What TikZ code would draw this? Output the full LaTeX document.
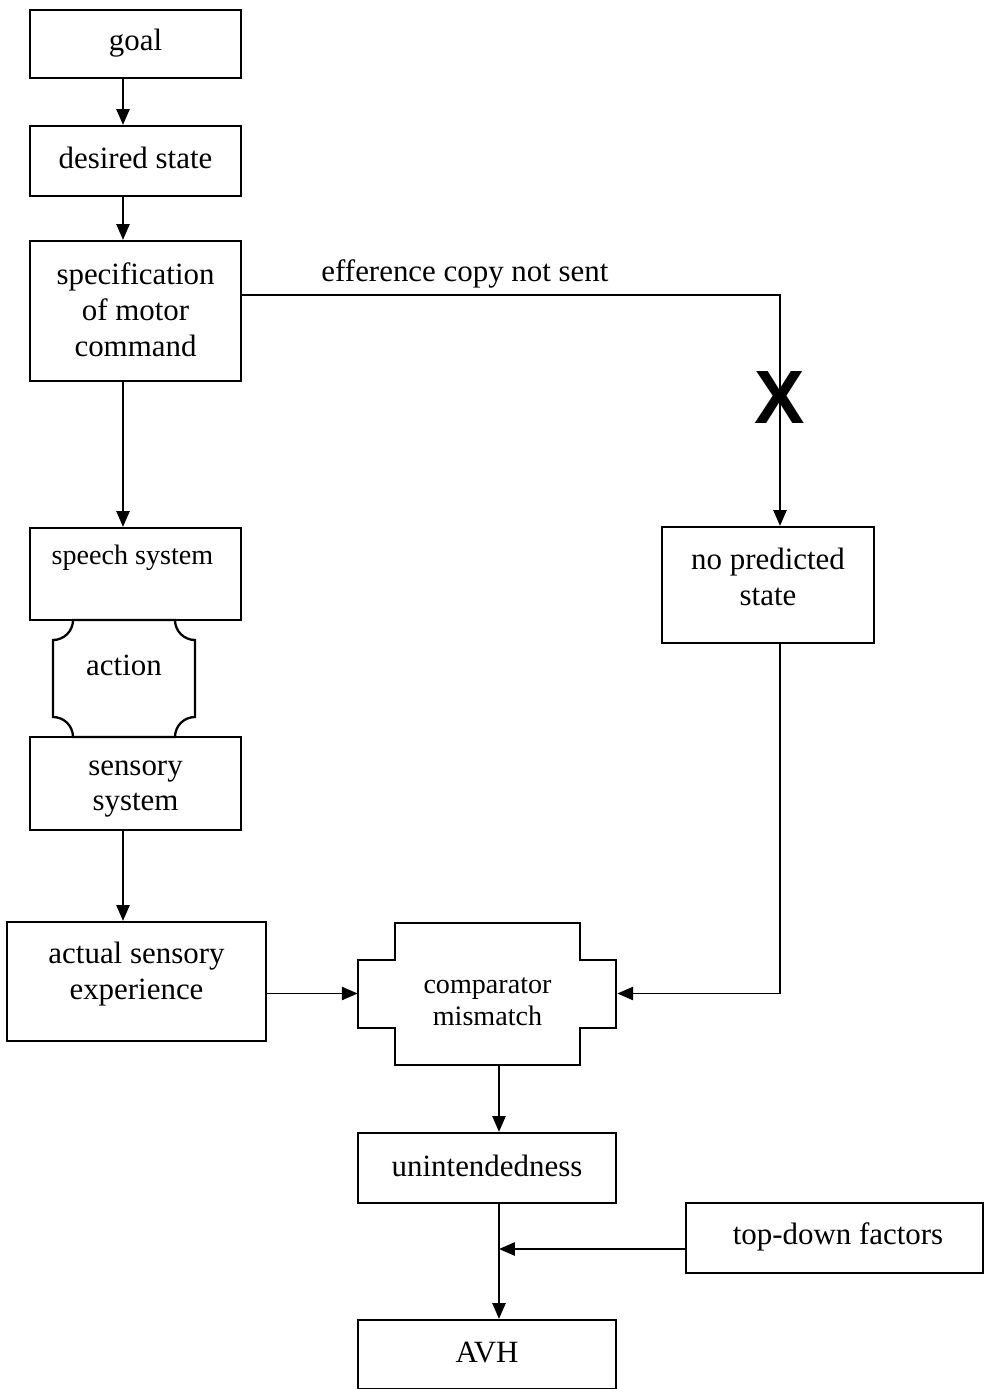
\documentclass[tikz,border=0pt]{standalone}
\usepackage{fontspec}
\setmainfont{Liberation Serif}
\setsansfont{Liberation Sans}
\usetikzlibrary{arrows.meta}
\begin{document}
\begin{tikzpicture}[x=0.02cm,y=0.02cm,
	box/.style={draw,line width=1.3pt,inner sep=0pt},
	txt/.style={align=center,inner sep=0pt,yshift=-0.06cm,font=\fontsize{17.6}{20.4}\selectfont},
	small/.style={txt,font=\fontsize{16}{18.2}\selectfont},
	arr/.style={line width=1.1pt,-{Triangle[length=9pt,width=7.5pt]}}]
	\useasboundingbox (0,0) rectangle (984,-1389);
	\coordinate (ax) at (123,0);
	\coordinate (rx) at (780,0);
	\coordinate (cx) at (499,0);
	% boxes
	\node[box,minimum width=4.22cm,minimum height=1.36cm] (goal) at (135.5,-44) {};
	\node[box,minimum width=4.22cm,minimum height=1.40cm] (desired) at (135.5,-161) {};
	\node[box,minimum width=4.22cm,minimum height=2.80cm] (spec) at (135.5,-311) {};
	\node[box,minimum width=4.22cm,minimum height=1.84cm] (speech) at (135.5,-574) {};
	\node[minimum width=2.84cm,minimum height=2.34cm,inner sep=0pt] (action) at (124.5,-678.5) {};
	\draw[line width=1.3pt] (73,-620) -- (175,-620) arc(180:270:20) -- (195,-717) arc(90:180:20)
		-- (73,-737) arc(0:90:20) -- (53,-640) arc(-90:0:20) -- cycle;
	\node[box,minimum width=4.22cm,minimum height=1.86cm] (sensory) at (135.5,-783.5) {};
	\node[box,minimum width=5.18cm,minimum height=2.38cm] (actual) at (136.5,-981.5) {};
	\node[minimum width=5.18cm,minimum height=2.82cm,inner sep=0pt] (comp) at (487.5,-993.5) {};
	\draw[line width=1.3pt] (395,-923) -- (580,-923) -- (580,-960) -- (616,-960) -- (616,-1028) -- (580,-1028)
		-- (580,-1065) -- (395,-1065) -- (395,-1028) -- (358,-1028) -- (358,-960) -- (395,-960) -- cycle;
	\node[box,minimum width=4.24cm,minimum height=2.32cm] (nopred) at (768,-585) {};
	\node[box,minimum width=5.16cm,minimum height=1.40cm] (unint) at (487,-1168) {};
	\node[box,minimum width=5.94cm,minimum height=1.40cm] (topdown) at (834.5,-1238) {};
	\node[box,minimum width=5.16cm,minimum height=1.38cm] (avh) at (487,-1354.5) {};
	% texts
	\node[txt] (goaltxt) at (135.5,-40) {goal};
	\node[txt] (desiredtxt) at (135.5,-155) {desired state};
	\node[txt] (spectxt) at (135.5,-307) {specification\\of motor\\command};
	\node[small] (speechtxt) at (132.5,-555) {speech system};
	\node[txt] (actiontxt) at (124,-662) {action};
	\node[txt] (sensorytxt) at (135.5,-786) {sensory\\system};
	\node[txt] (actualtxt) at (136.5,-971) {actual sensory\\experience};
	\node[small] (comptxt) at (487.5,-999) {comparator\\mismatch};
	\node[txt] (nopredtxt) at (768,-574) {no predicted\\state};
	\node[txt] (uninttxt) at (487,-1163) {unintendedness};
	\node[txt] (topdowntxt) at (838,-1234) {top-down factors};
	\node[txt] (avhtxt) at (487,-1350) {AVH};
	\node[txt] (eff) at (465,-271) {efference copy not sent};
	\node[inner sep=0pt,font=\sffamily\bfseries\fontsize{43}{43}\selectfont] (cross) at (780,-398) {X};
	% connectors
	\draw[arr] (goal.south -| ax) -- (desired.north -| ax);
	\draw[arr] (desired.south -| ax) -- (spec.north -| ax);
	\draw[arr] (spec.south -| ax) -- (speech.north -| ax);
	\draw[arr] (sensory.south -| ax) -- (actual.north -| ax);
	\coordinate (e0) at ([yshift=0.32cm]spec.east);
	\draw[arr] (e0) -- (e0 -| rx) -- (nopred.north -| rx);
	\draw[arr] (actual.east |- comp.west) -- (comp.west);
	\draw[arr] (nopred.south -| rx) -- (rx |- comp.east) -- (comp.east);
	\draw[arr] (comp.south -| cx) -- (unint.north -| cx);
	\draw[arr] (unint.south -| cx) -- (avh.north -| cx);
	\coordinate (td) at ([yshift=-0.22cm]topdown.west);
	\draw[arr] (td) -- (td -| cx);
\end{tikzpicture}
\end{document}
